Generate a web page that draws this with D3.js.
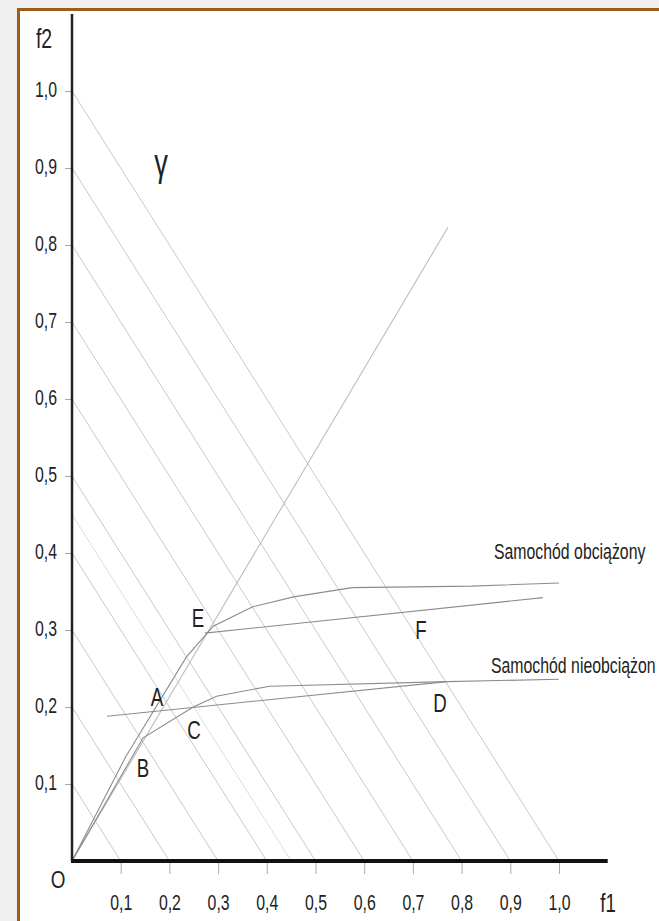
<!DOCTYPE html>
<html>
<head>
<meta charset="utf-8">
<script src="https://cdn.jsdelivr.net/npm/d3@7"></script>
<style>
  body { margin: 0; background: #efefef; }
  text { font-family: "Liberation Sans", Arial, sans-serif; fill: #222; }
</style>
</head>
<body>
<div id="theGraph"></div>
<script>
const width = 659, height = 921;

// axis values and their labels (comma decimals as in the original)
const xTicks = [0.1, 0.2, 0.3, 0.4, 0.5, 0.6, 0.7, 0.8, 0.9, 1.0];
const xTickLabels = ["0,1", "0,2", "0,3", "0,4", "0,5", "0,6", "0,7", "0,8", "0,9", "1,0"];
const yTicks = [0.1, 0.2, 0.3, 0.4, 0.5, 0.6, 0.7, 0.8, 0.9, 1.0];
const yTickLabels = ["0,1", "0,2", "0,3", "0,4", "0,5", "0,6", "0,7", "0,8", "0,9", "1,0"];

// lines of constant deceleration f1 + f2 = z
const isoLines = [0.1, 0.2, 0.3, 0.4, 0.45, 0.5, 0.6, 0.7, 0.8, 0.9, 1.0];

// ideal braking curves
const curveLoaded = [[0, 0], [0.11, 0.135], [0.235, 0.265], [0.29, 0.305], [0.37, 0.33], [0.455, 0.343], [0.575, 0.355], [0.82, 0.357], [1.0, 0.361]];
const curveUnloaded = [[0, 0], [0.146, 0.16], [0.249, 0.2], [0.297, 0.214], [0.406, 0.227], [0.77, 0.233], [1.0, 0.236]];

// straight lines (regulator characteristics) and the gamma line
const lineLoaded = [[0.273, 0.296], [0.967, 0.342]];
const lineUnloaded = [[0.072, 0.188], [0.77, 0.233]];
const gammaLine = [[0, 0], [0.772, 0.823]];

// point letters and where they sit (data units)
const pointNames = ["A", "B", "C", "D", "E", "F"];
const pointF1 = [0.1745, 0.146, 0.2505, 0.7556, 0.2587, 0.7166];
const pointF2 = [0.213, 0.121, 0.170, 0.205, 0.3156, 0.300];

const svg = d3.select("#theGraph").append("svg").attr("width", width).attr("height", height);

// frame
svg.append("rect").attr("x", 18.5).attr("y", 9.5).attr("width", 700).attr("height", 1000)
    .attr("fill", "#fff").attr("stroke", "#9c5e18").attr("stroke-width", 3);

const x = d3.scaleLinear().domain([0, 1]).range([72, 559]);
const y = d3.scaleLinear().domain([0, 1]).range([861, 91]);
const sx = 0.72; // narrow type

const line = d3.line().x(d => x(d[0])).y(d => y(d[1]));

function label(px, py, str, size, anchor, squeeze) {
    svg.append("text").attr("transform", `translate(${px},${py}) scale(${squeeze || sx},1)`)
        .attr("text-anchor", anchor || "middle").attr("font-size", size).text(str);
}

// diagonals
svg.append("g").selectAll("path").data(isoLines).enter().append("path")
    .attr("d", d => line([[0, d], [d, 0]]))
    .attr("stroke", d => d === 0.45 ? "#dcdcdc" : "#c9c9c9").attr("stroke-width", 1).attr("fill", "none");

// gamma
svg.append("path").attr("d", line(gammaLine)).attr("stroke", "#bdbdbd").attr("stroke-width", 1.1).attr("fill", "none");

// curves and straight lines
[curveLoaded, curveUnloaded, lineLoaded, lineUnloaded].forEach(d => {
    svg.append("path").attr("d", line(d)).attr("stroke", "#8c8c8c").attr("stroke-width", 1.1).attr("fill", "none");
});

// axes
const xAxis = d3.axisBottom(x).tickValues(xTicks).tickFormat((d, i) => xTickLabels[i]).tickSize(13);
const gx = svg.append("g").attr("transform", `translate(0,${y(0)})`).call(xAxis);
gx.select(".domain").remove();
gx.selectAll("line").attr("stroke", "#aaa");
gx.selectAll("text").attr("y", 0).attr("dy", 0).attr("transform", `translate(0,49) scale(${sx},1)`)
    .attr("font-size", 22).attr("fill", "#222");

const yAxis = d3.axisLeft(y).tickValues(yTicks).tickFormat((d, i) => yTickLabels[i]).tickSize(7);
const gy = svg.append("g").attr("transform", `translate(${x(0)},0)`).call(yAxis);
gy.select(".domain").remove();
gy.selectAll("line").attr("stroke", "#aaa");
gy.selectAll("text").attr("x", 0).attr("dy", 0).attr("transform", `translate(-15,5) scale(${sx},1)`)
    .attr("font-size", 22).attr("fill", "#222");

svg.append("line").attr("x1", x(0)).attr("x2", x(0)).attr("y1", y(1.1)).attr("y2", y(0))
    .attr("stroke", "#222").attr("stroke-width", 2.5);
svg.append("line").attr("x1", x(0) - 1).attr("x2", x(1.1)).attr("y1", y(0)).attr("y2", y(0))
    .attr("stroke", "#111").attr("stroke-width", 4);

// axis names
label(44, 48, "f2", 27);
label(608, 912, "f1", 26);
label(58, 888, "O", 23, "middle", 0.82);
label(x(0.1828), y(0.9) + 8, "\u03b3", 38);

// point letters
pointNames.forEach((n, i) => label(x(pointF1[i]), y(pointF2[i]) + 9, n, 26));

// curve names (the second one is cut at the frame edge in the original)
label(494, 559, "Samochód obciążony", 22, "start");
label(491, 673, "Samochód nieobciążon", 22, "start");
</script>
</body>
</html>
